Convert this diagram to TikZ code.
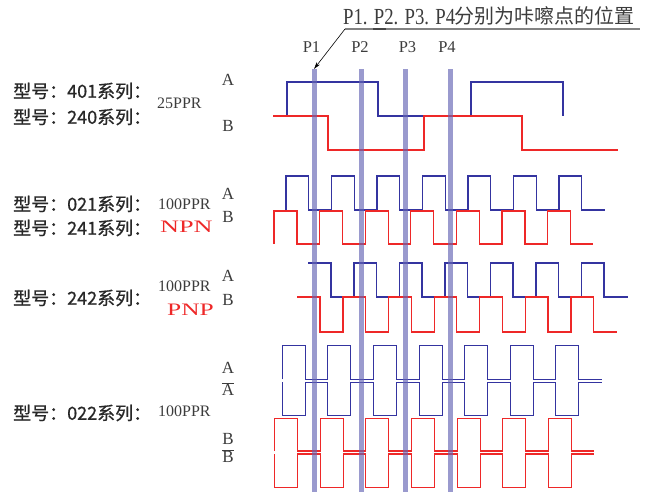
\documentclass[tikz,border=0pt]{standalone}
\usepackage{fontspec}
\usepackage{graphicx}
\setmainfont{Liberation Serif}
\newfontfamily\cjk{Noto Sans CJK SC}
\newfontfamily\cjkb{Noto Sans CJK SC}[FakeBold=0.9]
\usetikzlibrary{arrows.meta}
\definecolor{wblue}{RGB}{52,52,160}
\definecolor{wred}{RGB}{238,40,40}
\definecolor{barcol}{RGB}{100,100,180}
\definecolor{txt}{RGB}{60,60,60}
\begin{document}
\begin{tikzpicture}[x=1pt,y=-1pt,
  bl/.style={draw=wblue,line width=1.1pt},
  rd/.style={draw=wred,line width=1.1pt},
  pbar/.style={draw=none,fill=barcol,fill opacity=0.65,inner sep=0,minimum width=5pt,minimum height=423pt,anchor=north},
  lab/.style={inner sep=0,anchor=base,text=txt,font=\fontsize{17}{17}\selectfont},
  plab/.style={inner sep=0,text=txt,font=\fontsize{16.5}{16.5}\selectfont},
  model/.style={inner sep=0,anchor=west,text={rgb,255:red,40;green,40;blue,40},font=\cjkb\fontsize{18}{18}\selectfont},
  ppr/.style={inner sep=0,anchor=west,text=txt,font=\fontsize{16}{16}\selectfont},
  pn/.style={inner sep=0,anchor=west,text=wred,font=\fontsize{17.5}{17.5}\selectfont}]
\useasboundingbox (0,0) rectangle (646,492);

% ---------- title ----------
\node[inner sep=0,anchor=base west,text=txt] (tlat) at (343,25)
  {\scalebox{0.815}[1]{\fontsize{23}{23}\selectfont P1. P2. P3. P4}};
\node[inner sep=0,anchor=base west,text=txt] (tcjk) at (454,24)
  {\cjk\fontsize{20}{20}\selectfont 分别为咔嚓点的位置};
\coordinate (ul) at (345,29);
\coordinate (ulend) at (640,29);
\draw[draw={rgb,255:red,130;green,130;blue,130},line width=1.3pt] (ul) -- (ulend);
\draw[draw={rgb,255:red,70;green,70;blue,70},line width=1.5pt] (373,29) -- (386,29);

% ---------- group 1 ----------
\draw[bl] (287,116) -- (287,82) -- (378,82) -- (378,116) -- (471,116) -- (471,82) -- (563,82) -- (563,116);
\draw[rd] (273,116) -- (328,116) -- (328,150) -- (424,150) -- (424,116) -- (522,116) -- (522,150) -- (618,150);

% ---------- group 2 ----------
\draw[bl] (286,210) \foreach \k in {0,...,6}{ -- ++(0,-34) -- ++(22.75,0) -- ++(0,34) -- ++(22.75,0)};
\draw[rd] (274,244) \foreach \k in {0,...,6}{ -- ++(0,-33) -- ++(23,0) -- ++(0,33) -- ++(22.6,0)};

% ---------- group 3 ----------
\draw[bl] (308,263) -- (331,263) -- (331,297) \foreach \k in {0,...,5}{ -- ++(23,0) -- ++(0,-34) -- ++(22.5,0) -- ++(0,34)} -- (628,297);
\draw[rd] (297,297) -- (320,297) -- (320,332) \foreach \k in {0,...,5}{ -- ++(23,0) -- ++(0,-35) -- ++(22.6,0) -- ++(0,35)} -- (617,332);

% ---------- group 4 ----------
\draw[bl] (282.3,379.3) \foreach \k in {0,...,6}{ -- ++(0,-33.6) -- ++(23,0) -- ++(0,33.6) -- ++(22.6,0)};
\draw[bl] (282.3,382.3) \foreach \k in {0,...,6}{ -- ++(0,33.4) -- ++(23,0) -- ++(0,-33.4) -- ++(22.6,0)};
\draw[rd] (274.7,451) \foreach \k in {0,...,6}{ -- ++(0,-32.7) -- ++(23,0) -- ++(0,32.7) -- ++(22.6,0)};
\draw[rd] (274.7,454) \foreach \k in {0,...,6}{ -- ++(0,33.7) -- ++(23,0) -- ++(0,-33.7) -- ++(22.6,0)};

% ---------- click-point bars ----------
\node[pbar] (bar1) at (314,69) {};
\node[pbar] (bar2) at (361,69) {};
\node[pbar] (bar3) at (405,69) {};
\node[pbar] (bar4) at (450,69) {};
\node[plab] (p1) at (311.5,47.5) {P1};
\node[plab] (p2) at (360,47.5) {P2};
\node[plab] (p3) at (407.5,47.5) {P3};
\node[plab] (p4) at (447,47.5) {P4};
\draw[black,line width=0.6pt,-{Stealth[length=7pt,width=4pt]}] (ul) -- (bar1.north);

% ---------- channel labels ----------
\node[lab] (a1) at (228,85.6) {A};
\node[lab] (b1) at (228,131.6) {B};
\node[lab] (a2) at (228,199.6) {A};
\node[lab] (b2) at (228,222.6) {B};
\node[lab] (a3) at (228,281.6) {A};
\node[lab] (b3) at (228,305.6) {B};
\node[lab] (a4) at (228,373.6) {A};
\node[lab] (na4) at (228,395.6) {$\overline{\hbox{A}}$};
\node[lab] (b4) at (228,444.6) {B};
\node[lab] (nb4) at (228,462.6) {$\overline{\hbox{B}}$};

% ---------- model labels ----------
\node[model] (m401) at (13,91) {型号：401系列：};
\node[model] (m240) at (13,117) {型号：240系列：};
\node[ppr] (r1) at (157,103) {25PPR};
\node[model] (m021) at (13,204) {型号：021系列：};
\node[model] (m241) at (13,228) {型号：241系列：};
\node[ppr] (r2) at (158,204) {100PPR};
\node[pn] (npn) at (160,227) {\scalebox{1.5}[1]{NPN}};
\node[model] (m242) at (13,298) {型号：242系列：};
\node[ppr] (r3) at (158,286) {100PPR};
\node[pn] (pnp) at (167,310) {\scalebox{1.45}[1]{PNP}};
\node[model] (m022) at (13,413) {型号：022系列：};
\node[ppr] (r4) at (158,411) {100PPR};
\end{tikzpicture}
\end{document}
